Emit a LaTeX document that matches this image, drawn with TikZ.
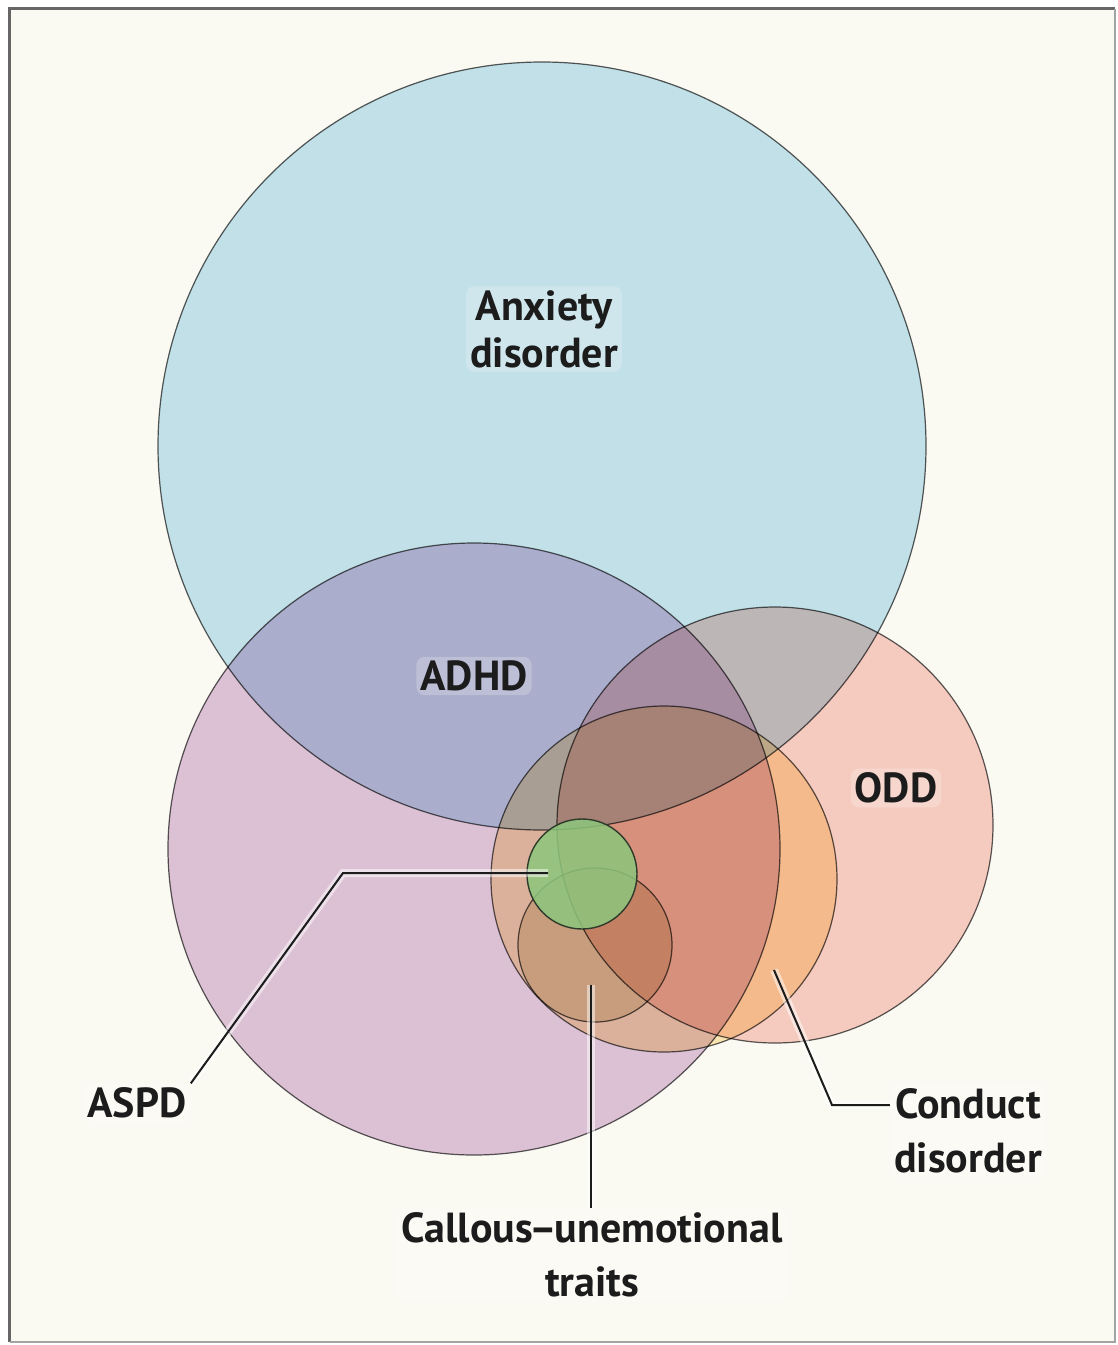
\documentclass[tikz,border=0pt]{standalone}
\usepackage{fontspec}
\setmainfont{PT Sans}
\definecolor{cream}{HTML}{FAF9F2}
\definecolor{framegray}{HTML}{666666}
\definecolor{anxblue}{HTML}{C5E6F4}
\definecolor{adhdpurple}{HTML}{E1C6E1}
\definecolor{oddpink}{HTML}{FAD0CB}
\definecolor{condorange}{HTML}{FEEABB}
\definecolor{cubrown}{HTML}{E9E3CF}
\definecolor{aspdgreen}{HTML}{8CC67C}
\definecolor{rimgray}{HTML}{5A5A5A}
\definecolor{greenrim}{HTML}{2E3A2A}
\definecolor{ink}{HTML}{1C1C1C}
\begin{document}
\begin{tikzpicture}[x=0.5pt,y=-0.5pt,
		rim/.style={draw=rimgray,line width=0.6pt},
		lbl/.style={font=\bfseries\fontsize{21}{27}\selectfont,text=ink,align=center,inner sep=2pt,rounded corners=4pt,fill=white,fill opacity=0.22,text opacity=1},
		leader/.style={ink,line width=1pt},
		leaderhalo/.style={white,opacity=0.5,line width=4pt}]
	\fill[white] (0,0) rectangle (1118,1345);
	\fill[cream] (9,8) rectangle (1115,1342);
	\draw[framegray,line width=1.5pt] (9.5,1342) -- (9.5,8.5) -- (1115,8.5);
	\draw[framegray!60,line width=0.8pt] (1115,8.5) -- (1115,1342) -- (9.5,1342);
	\coordinate (anx) at (542,446);
	\coordinate (adhd) at (474,849);
	\coordinate (odd) at (775,825);
	\coordinate (cond) at (664,879);
	\coordinate (cu) at (595,945);
	\coordinate (aspd) at (582,874);
	\begin{scope}[blend mode=multiply]
		\filldraw[rim,fill=anxblue] (anx) circle (384);
		\filldraw[rim,fill=adhdpurple] (adhd) circle (306);
		\filldraw[rim,fill=oddpink] (odd) circle (218);
		\filldraw[rim,fill=condorange] (cond) circle (173);
		\filldraw[rim,fill=cubrown] (cu) circle (77);
	\end{scope}
	\filldraw[draw=greenrim,fill=aspdgreen,fill opacity=0.85,line width=0.7pt] (aspd) circle (55);
	\node[lbl,font=\bfseries\fontsize{21}{23.5}\selectfont] (anxlbl) at (544,329) {Anxiety\\disorder};
	\node[lbl] (adhdlbl) at (474,676) {ADHD};
	\node[lbl] (oddlbl) at (896,788) {ODD};
	\node[lbl] (aspdlbl) at (137,1103) {ASPD};
	\node[lbl] (culbl) at (592,1255) {Callous\kern-1.5pt–\kern-1.5pt unemotional\\traits};
	\node[lbl] (condlbl) at (968,1131) {Conduct\\disorder};
	\coordinate (aspdtip) at (548,873);
	\coordinate (aspdbend) at (343,873);
	\coordinate (cutip) at (591,985);
	\coordinate (condtip) at (774,970);
	\coordinate (condbend) at (832,1105);
	\draw[leaderhalo] (aspdtip) -- (aspdbend) -- (aspdlbl.north east);
	\draw[leaderhalo] (cutip) -- (cutip |- culbl.north);
	\draw[leaderhalo] (condtip) -- (condbend) -- (condbend -| condlbl.west);
	\draw[leader] (aspdtip) -- (aspdbend) -- (aspdlbl.north east);
	\draw[leader] (cutip) -- (cutip |- culbl.north);
	\draw[leader] (condtip) -- (condbend) -- (condbend -| condlbl.west);
\end{tikzpicture}
\end{document}
